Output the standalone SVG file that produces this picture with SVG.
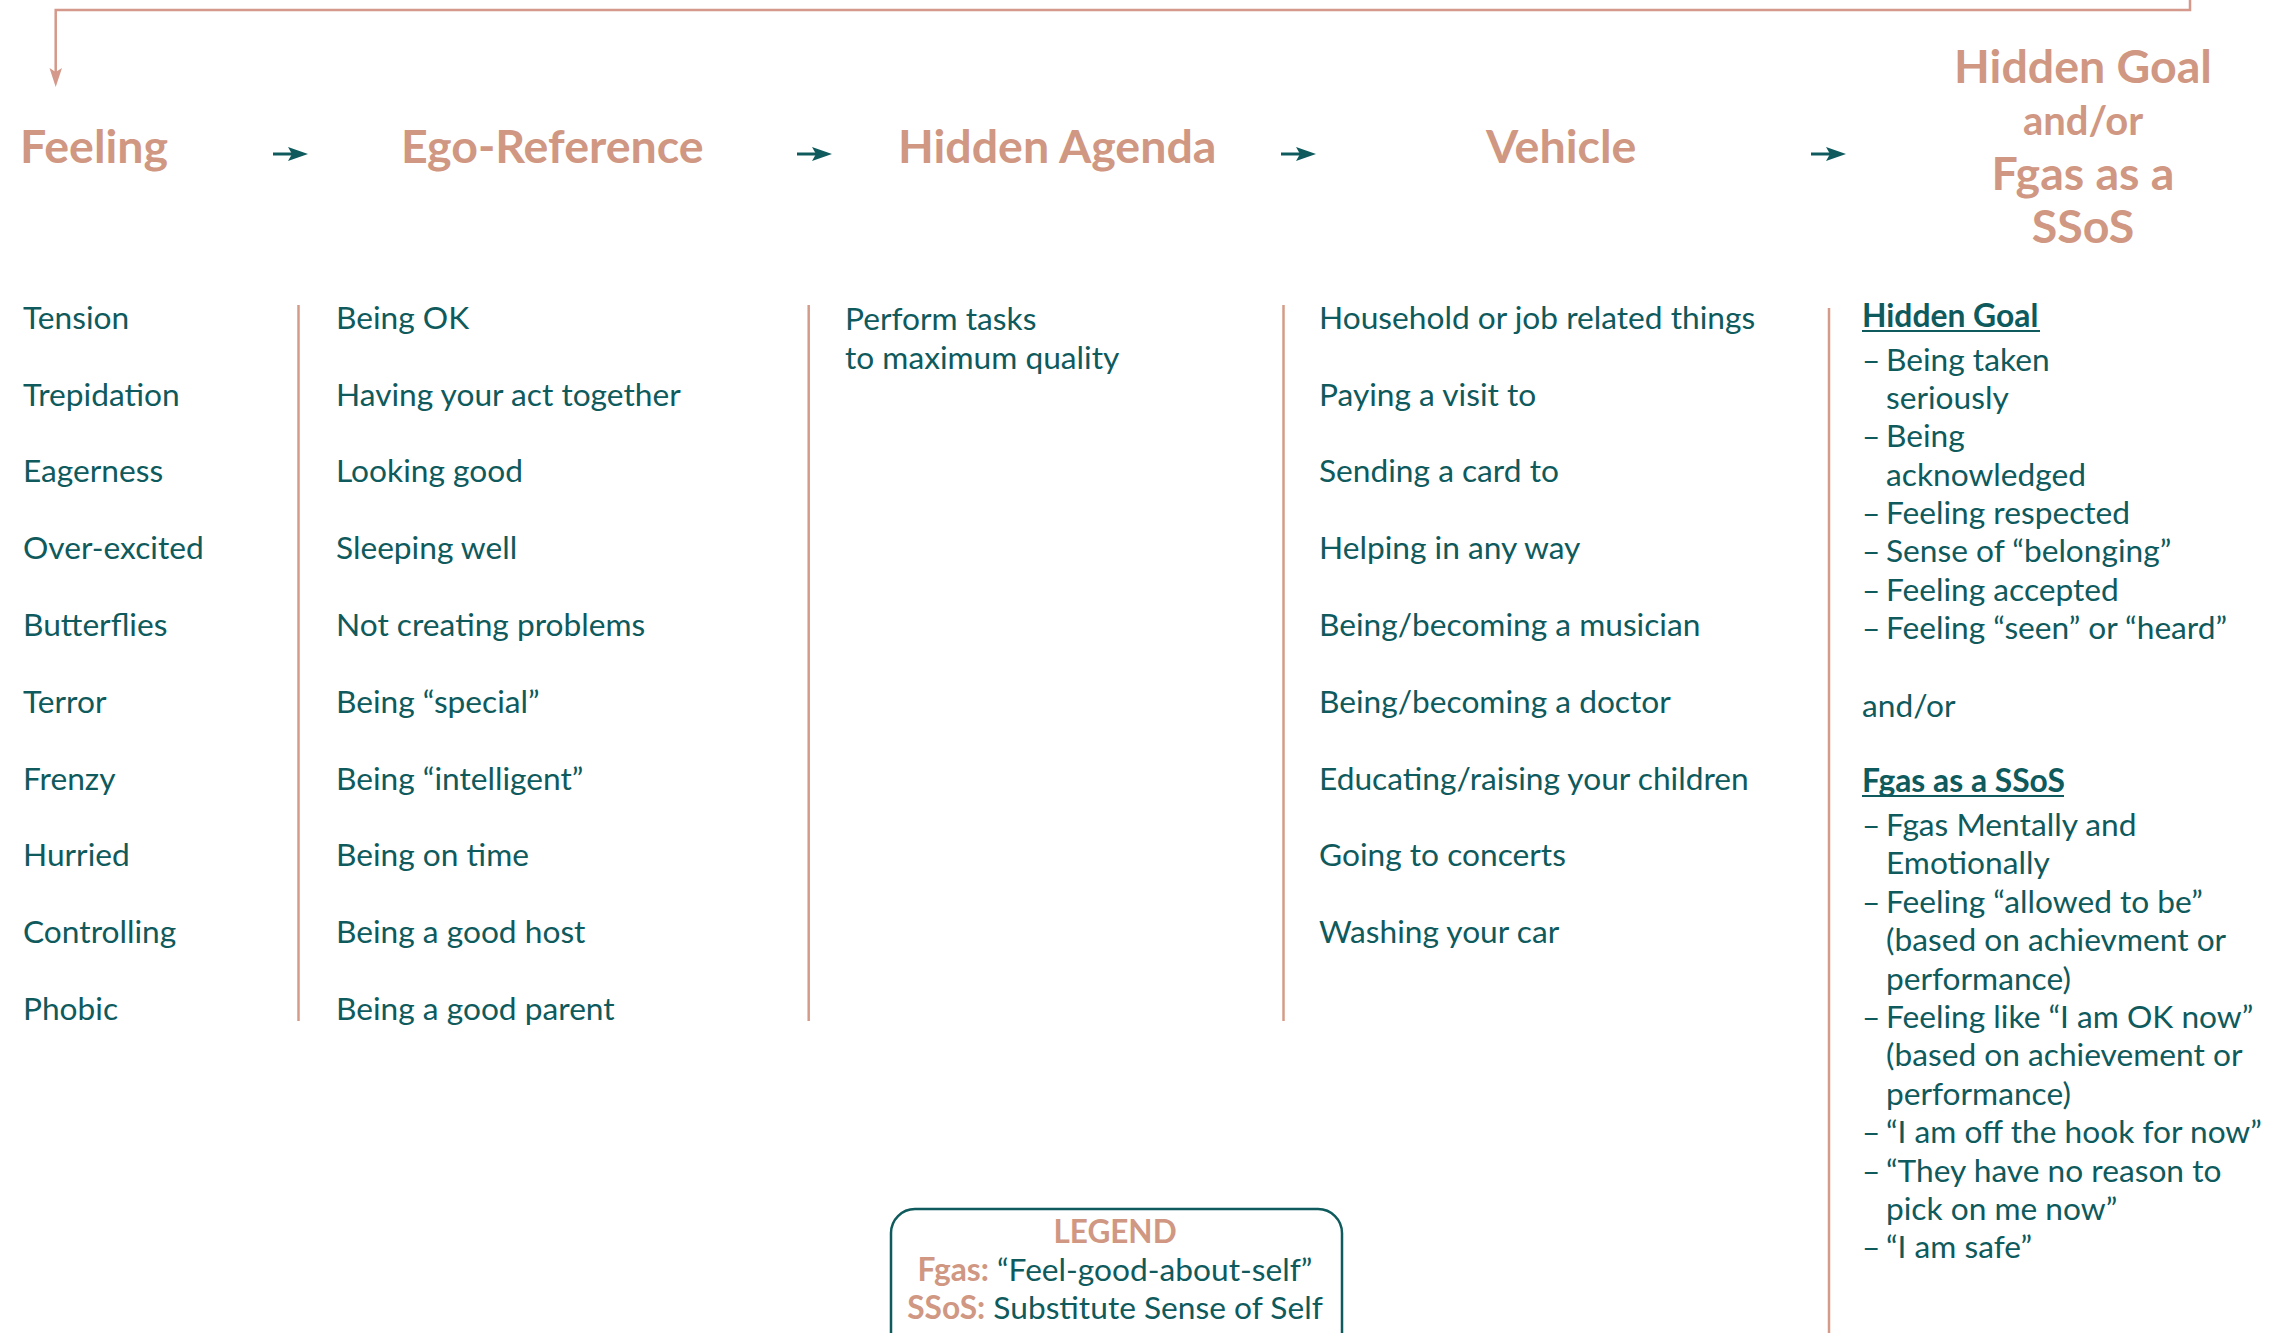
<svg xmlns="http://www.w3.org/2000/svg" width="2269" height="1333" viewBox="0 0 2269 1333">
  <style>
    text { font-family: Lato, "Liberation Sans", sans-serif; }
    .head { font-size: 46.5px; font-weight: 700; fill: #D09782; }
    .head-sm { font-size: 40px; font-weight: 700; fill: #D09782; }
    .item { font-size: 31.7px; fill: #0E5A5C; }
    .sub { font-size: 31.8px; font-weight: 700; fill: #0E5A5C; }
    .legend-title { font-size: 31.5px; font-weight: 700; fill: #D09782; }
    .key { font-weight: 700; fill: #D09782; }
    .rule { stroke: #D49C88; stroke-width: 2.5; fill: none; }
    .ul { stroke: #0E5A5C; stroke-width: 2; }
    .flow { stroke: #0E5A5C; stroke-width: 3; fill: none; }
    .loop { stroke: #D4998A; stroke-width: 2.5; fill: none; }
  </style>
  <defs>
    <!-- small teal arrowhead used between the column headings -->
    <path id="tealHead" d="M0,-7 L20,0 L0,7 L4,0 Z" fill="#0E5A5C"/>
  </defs>
  <rect width="2269" height="1333" fill="#FFFFFF"/>

  <!-- connectors -->
  <g id="connectors">
    <!-- feedback loop from the last column back to Feeling -->
    <path class="loop" d="M2190,-5 L2190,10 L55.7,10 L55.7,74"/>
    <path d="M49.5,68 L55.7,87 L62,68 L55.7,72 Z" fill="#D4998A"/>
    <!-- flow arrows between headings -->
    <line class="flow" x1="273" y1="154" x2="292" y2="154"/>
    <use href="#tealHead" x="288" y="154"/>
    <line class="flow" x1="797" y1="154" x2="816" y2="154"/>
    <use href="#tealHead" x="812" y="154"/>
    <line class="flow" x1="1281" y1="154" x2="1300" y2="154"/>
    <use href="#tealHead" x="1296" y="154"/>
    <line class="flow" x1="1811" y1="154" x2="1830" y2="154"/>
    <use href="#tealHead" x="1826" y="154"/>
    <!-- column dividers -->
    <line class="rule" x1="298.5" y1="305" x2="298.5" y2="1021"/>
    <line class="rule" x1="808.7" y1="305" x2="808.7" y2="1021"/>
    <line class="rule" x1="1283.5" y1="305" x2="1283.5" y2="1021"/>
    <line class="rule" x1="1829" y1="308" x2="1829" y2="1340"/>
  </g>

  <!-- Feeling -->
  <g id="feeling">
    <text class="head" x="20" y="163">Feeling</text>
    <text class="item" x="23" y="329">Tension</text>
    <text class="item" x="23" y="406">Trepidation</text>
    <text class="item" x="23" y="482">Eagerness</text>
    <text class="item" x="23" y="559">Over-excited</text>
    <text class="item" x="23" y="636">Butterflies</text>
    <text class="item" x="23" y="713">Terror</text>
    <text class="item" x="23" y="790">Frenzy</text>
    <text class="item" x="23" y="866">Hurried</text>
    <text class="item" x="23" y="943">Controlling</text>
    <text class="item" x="23" y="1020">Phobic</text>
  </g>

  <!-- Ego-Reference -->
  <g id="ego-reference">
    <text class="head" x="401" y="163">Ego-Reference</text>
    <text class="item" x="336" y="329">Being OK</text>
    <text class="item" x="336" y="406">Having your act together</text>
    <text class="item" x="336" y="482">Looking good</text>
    <text class="item" x="336" y="559">Sleeping well</text>
    <text class="item" x="336" y="636">Not creating problems</text>
    <text class="item" x="336" y="713">Being “special”</text>
    <text class="item" x="336" y="790">Being “intelligent”</text>
    <text class="item" x="336" y="866">Being on time</text>
    <text class="item" x="336" y="943">Being a good host</text>
    <text class="item" x="336" y="1020">Being a good parent</text>
  </g>

  <!-- Hidden Agenda -->
  <g id="hidden-agenda">
    <text class="head" x="898" y="163">Hidden Agenda</text>
    <text class="item" x="845" y="330">Perform tasks</text>
    <text class="item" x="845" y="369">to maximum quality</text>
  </g>

  <!-- Vehicle -->
  <g id="vehicle">
    <text class="head" x="1486" y="163">Vehicle</text>
    <text class="item" x="1319" y="329">Household or job related things</text>
    <text class="item" x="1319" y="406">Paying a visit to</text>
    <text class="item" x="1319" y="482">Sending a card to</text>
    <text class="item" x="1319" y="559">Helping in any way</text>
    <text class="item" x="1319" y="636">Being/becoming a musician</text>
    <text class="item" x="1319" y="713">Being/becoming a doctor</text>
    <text class="item" x="1319" y="790">Educating/raising your children</text>
    <text class="item" x="1319" y="866">Going to concerts</text>
    <text class="item" x="1319" y="943">Washing your car</text>
  </g>

  <!-- Hidden Goal and/or Fgas as a SSoS -->
  <g id="hidden-goal">
    <g text-anchor="middle">
      <text class="head" x="2083" y="83">Hidden Goal</text>
      <text class="head-sm" x="2083" y="135">and/or</text>
      <text class="head" x="2083" y="190">Fgas as a</text>
      <text class="head" x="2083" y="243">SSoS</text>
    </g>

    <text class="sub" x="1862" y="327">Hidden Goal</text>
    <line class="ul" x1="1862" y1="331" x2="2040" y2="331"/>
    <g class="item">
      <text x="1862" y="371">–</text><text x="1886" y="371">Being taken</text>
      <text x="1886" y="409">seriously</text>
      <text x="1862" y="447">–</text><text x="1886" y="447">Being</text>
      <text x="1886" y="486">acknowledged</text>
      <text x="1862" y="524">–</text><text x="1886" y="524">Feeling respected</text>
      <text x="1862" y="562">–</text><text x="1886" y="562">Sense of “belonging”</text>
      <text x="1862" y="601">–</text><text x="1886" y="601">Feeling accepted</text>
      <text x="1862" y="639">–</text><text x="1886" y="639">Feeling “seen” or “heard”</text>
    </g>

    <text class="item" x="1862" y="717">and/or</text>

    <text class="sub" x="1862" y="792">Fgas as a SSoS</text>
    <line class="ul" x1="1862" y1="796" x2="2064" y2="796"/>
    <g class="item">
      <text x="1862" y="836">–</text><text x="1886" y="836">Fgas Mentally and</text>
      <text x="1886" y="874">Emotionally</text>
      <text x="1862" y="913">–</text><text x="1886" y="913">Feeling “allowed to be”</text>
      <text x="1886" y="951">(based on achievment or</text>
      <text x="1886" y="990">performance)</text>
      <text x="1862" y="1028">–</text><text x="1886" y="1028">Feeling like “I am OK now”</text>
      <text x="1886" y="1066">(based on achievement or</text>
      <text x="1886" y="1105">performance)</text>
      <text x="1862" y="1143">–</text><text x="1886" y="1143">“I am off the hook for now”</text>
      <text x="1862" y="1182">–</text><text x="1886" y="1182">“They have no reason to</text>
      <text x="1886" y="1220">pick on me now”</text>
      <text x="1862" y="1258">–</text><text x="1886" y="1258">“I am safe”</text>
    </g>
  </g>

  <!-- Legend -->
  <g id="legend">
    <rect x="891" y="1209" width="451" height="170" rx="24" ry="24" fill="#FFFFFF" stroke="#0E5A5C" stroke-width="2.5"/>
    <g text-anchor="middle">
      <text class="legend-title" x="1115" y="1243">LEGEND</text>
      <text class="item" x="1115" y="1281"><tspan class="key">Fgas:</tspan> “Feel-good-about-self”</text>
      <text class="item" x="1115" y="1319"><tspan class="key">SSoS:</tspan> Substitute Sense of Self</text>
    </g>
  </g>
</svg>
